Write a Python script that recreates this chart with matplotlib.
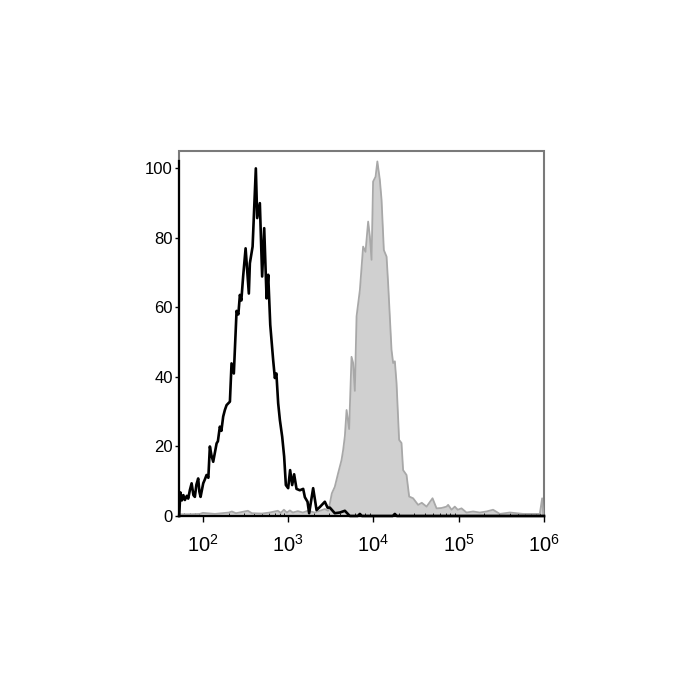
import numpy as np
import matplotlib
matplotlib.use("Agg")
import matplotlib.pyplot as plt
from matplotlib.ticker import FixedLocator, LogLocator, NullFormatter
from matplotlib.patches import Rectangle

plt.rcParams['font.family'] = ['Liberation Sans', 'DejaVu Sans']
plt.rcParams['mathtext.fontset'] = 'custom'
plt.rcParams['mathtext.rm'] = 'Liberation Sans'
plt.rcParams['mathtext.it'] = 'Liberation Sans:italic'
plt.rcParams['mathtext.bf'] = 'Liberation Sans:bold'

# Unstained control (black outline), x as log10(fluorescence intensity)
ctrl_log = [1.722, 1.736, 1.754, 1.771, 1.789, 1.812, 1.828, 1.848, 1.868, 1.889,
            1.906, 1.924, 1.945, 1.959, 1.973, 2.004, 2.023, 2.043, 2.064, 2.082,
            2.100, 2.121, 2.161, 2.176, 2.199, 2.217, 2.238, 2.258, 2.278, 2.317,
            2.336, 2.363, 2.395, 2.416, 2.434, 2.451, 2.472, 2.501, 2.539, 2.551,
            2.583, 2.621, 2.637, 2.668, 2.695, 2.719, 2.747, 2.766, 2.790, 2.824,
            2.844, 2.862, 2.883, 2.903, 2.930, 2.953, 2.973, 3.000, 3.023, 3.047,
            3.070, 3.098, 3.137, 3.176, 3.196, 3.227, 3.246, 3.293, 3.333, 3.372,
            3.430, 3.462, 3.489, 3.547, 3.606, 3.665, 3.723, 3.817, 3.841, 3.864,
            4.227, 4.251, 4.274, 6.000]
ctrl_pct = [0, 6.8, 4.5, 6.0, 4.6, 5.8, 5.0, 7.5, 9.4, 6.0,
            5.5, 9.0, 10.8, 7.0, 5.5, 9.4, 10.5, 11.8, 11.0, 20.0,
            17.5, 15.6, 20.9, 21.5, 25.7, 24.5, 28.6, 30.5, 31.9, 32.9,
            43.9, 41.0, 59.0, 58.0, 63.6, 62.0, 68.9, 77.0, 64.0, 72.7,
            77.5, 100.0, 85.7, 90.0, 68.9, 82.8, 62.6, 69.4, 55.0, 44.9,
            39.7, 41.0, 32.4, 27.6, 22.8, 17.1, 8.9, 8.0, 13.2, 8.9,
            12.0, 7.8, 7.4, 7.8, 5.4, 4.1, 0.8, 8.0, 1.7, 2.6,
            4.1, 2.4, 2.4, 0.8, 1.0, 1.5, 0, 0, 0.6, 0,
            0, 0.6, 0, 0]

# Stained sample (grey filled)
stain_log = [1.722, 1.848, 1.965, 2.000, 2.141, 2.305, 2.340, 2.387, 2.528, 2.574,
             2.692, 2.785, 2.879, 2.914, 2.950, 2.985, 3.020, 3.055, 3.114, 3.172,
             3.231, 3.313, 3.372, 3.430, 3.469, 3.489, 3.512, 3.547, 3.586, 3.626,
             3.645, 3.665, 3.685, 3.715, 3.743, 3.762, 3.782, 3.802, 3.841, 3.879,
             3.907, 3.938, 3.958, 3.978, 3.996, 4.025, 4.046, 4.075, 4.095, 4.122,
             4.154, 4.172, 4.212, 4.231, 4.251, 4.271, 4.301, 4.329, 4.348, 4.388,
             4.419, 4.465, 4.524, 4.567, 4.623, 4.693, 4.740, 4.798, 4.857, 4.876,
             4.916, 4.954, 4.989, 5.033, 5.091, 5.169, 5.247, 5.326, 5.403, 5.482,
             5.599, 5.755, 5.951, 5.978, 5.992]
stain_pct = [0.5, 0.5, 0.6, 0.9, 0.6, 1.0, 1.3, 0.8, 1.5, 0.8,
             0.7, 1.0, 1.5, 0.9, 1.8, 1.0, 1.6, 1.0, 1.4, 1.0,
             1.5, 1.0, 1.5, 2.0, 1.5, 3.6, 6.5, 8.4, 12.3, 16.1,
             19.0, 23.0, 30.5, 25.0, 45.8, 44.0, 36.0, 57.4, 65.0, 77.5,
             76.0, 84.7, 80.4, 73.7, 96.2, 97.6, 102.0, 96.7, 91.0, 76.5,
             74.6, 67.0, 47.8, 44.0, 44.5, 38.2, 21.9, 21.0, 13.2, 11.8,
             5.6, 5.1, 3.2, 3.8, 2.7, 5.1, 2.2, 2.3, 2.7, 3.2,
             1.8, 2.7, 1.8, 2.2, 1.0, 1.3, 1.0, 1.3, 1.8, 0.6,
             1.0, 0.6, 0.6, 5.1, 0]

y_ticks = [0, 20, 40, 60, 80, 100]
x_decades = [2, 3, 4, 5, 6]
x_log_range = (1.72, 6.0)
y_range = (0, 105)

fig = plt.figure(figsize=(7, 7), dpi=100)
ax = fig.add_axes([179/700, 1 - 516/700, 365/700, 365/700])

sx = 10 ** np.array(stain_log)
cx = 10 ** np.array(ctrl_log)
ax.fill_between(sx, 0, stain_pct, color='#d0d0d0', lw=0, zorder=1)
ax.plot(sx, stain_pct, color='#a8a8a8', lw=1.3, zorder=2)
ax.plot(cx, ctrl_pct, color='black', lw=1.9, zorder=3, clip_on=False)

ax.set_xscale('log')
ax.set_xlim(10 ** x_log_range[0], 10 ** x_log_range[1])
ax.set_ylim(*y_range)

ax.xaxis.set_major_locator(FixedLocator([10 ** d for d in x_decades]))
ax.set_xticklabels([r'$10^{%d}$' % d for d in x_decades], fontsize=14.5)
ax.xaxis.set_minor_locator(LogLocator(base=10, subs=np.arange(2, 10)))
ax.xaxis.set_minor_formatter(NullFormatter())
ax.set_yticks(y_ticks)
ax.set_yticklabels([str(t) for t in y_ticks], fontsize=12)

ax.tick_params(axis='x', which='major', direction='out', length=4, width=1, pad=9)
ax.tick_params(axis='x', which='minor', direction='in', length=2, width=0.6)
ax.tick_params(axis='y', which='major', direction='out', length=3, width=1, pad=1.5)

# grey frame around the plot area, black left/bottom axis lines
ax.add_patch(Rectangle((0, 0), 1, 1, transform=ax.transAxes, fill=False,
                       edgecolor='#7a7a7a', lw=1.5, zorder=0.5, clip_on=False))
for side in ['top', 'right']:
    ax.spines[side].set_visible(False)
ax.spines['left'].set_color('black')
ax.spines['left'].set_linewidth(1.6)
ax.spines['left'].set_bounds(0, 102)
ax.spines['bottom'].set_color('black')
ax.spines['bottom'].set_linewidth(1.6)

fig.savefig('out.png', dpi=100)
